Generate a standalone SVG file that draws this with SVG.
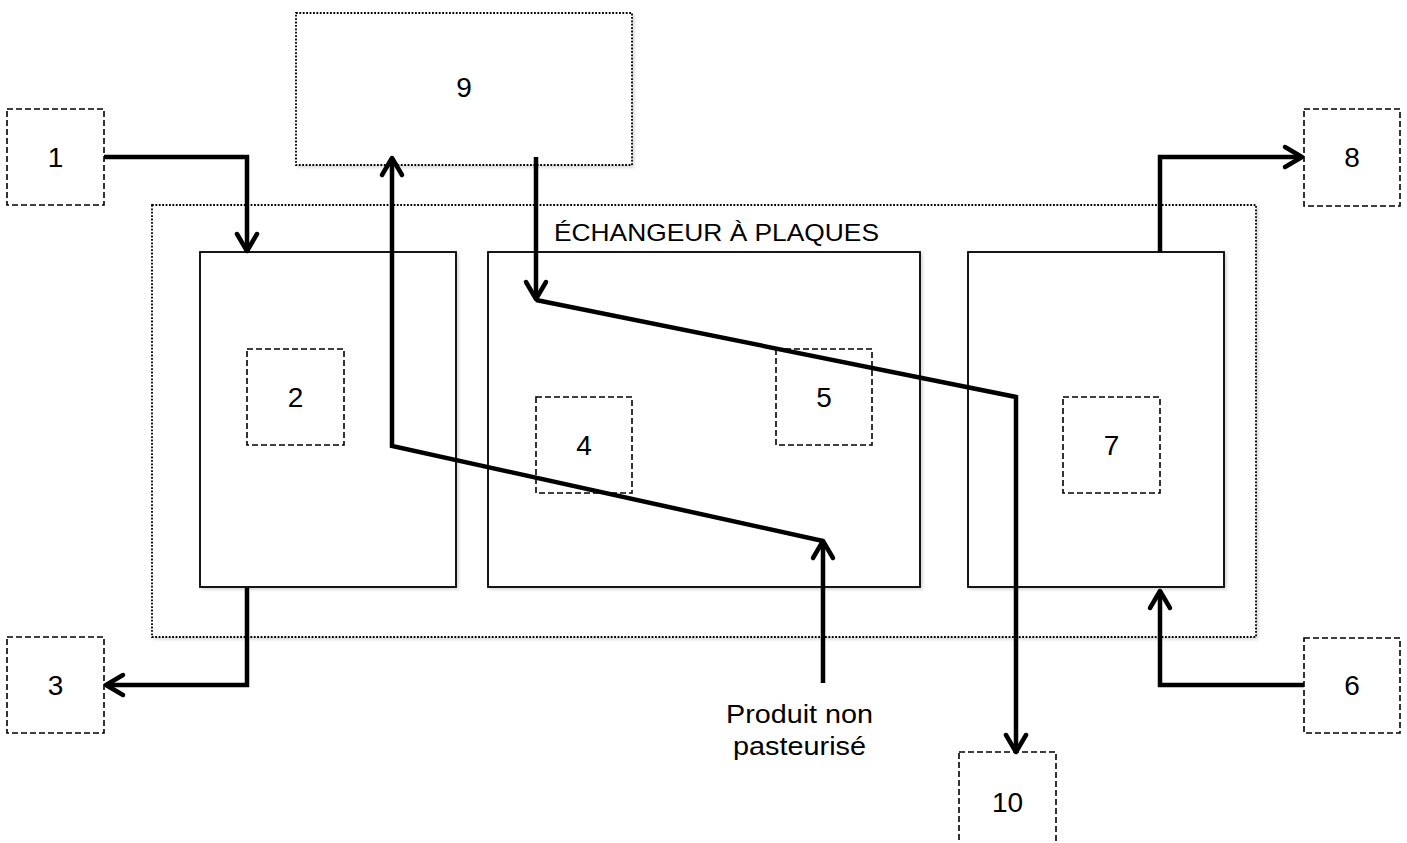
<svg xmlns="http://www.w3.org/2000/svg" width="1407" height="843" viewBox="0 0 1407 843">
<style>
  .lbl { font-family: "Liberation Sans", Arial, sans-serif; fill: #000; }
  .num { font-size: 28px; text-anchor: middle; }
  .dash { fill: #fff; stroke: #000; stroke-width: 1.6; stroke-dasharray: 6 3; }
  .dot { fill: #fff; stroke: #000; stroke-width: 1.8; stroke-dasharray: 1.8 1.6; }
  .solid { fill: #fff; stroke: #000; stroke-width: 1.8; }
  .conn { fill: none; stroke: #000; stroke-width: 4.5; stroke-linejoin: miter; }
</style>
<defs>
  <filter id="sh" x="-5%" y="-5%" width="110%" height="110%">
    <feDropShadow dx="2" dy="2" stdDeviation="1.5" flood-color="#000" flood-opacity="0.15"/>
  </filter>
  <marker id="arr" markerUnits="userSpaceOnUse" markerWidth="40" markerHeight="40" refX="0" refY="0" orient="auto" overflow="visible">
    <path d="M-17,-10 L0,0 L-17,10" fill="none" stroke="#000" stroke-width="4.5" stroke-linecap="round" stroke-linejoin="round"/>
  </marker>
</defs>
<rect width="1407" height="843" fill="#fff"/>

<g id="echangeur">
  <rect class="dot" x="152" y="205" width="1104" height="432" filter="url(#sh)"/>
  <text class="lbl" x="554" y="241" font-size="24" textLength="325" lengthAdjust="spacingAndGlyphs">ÉCHANGEUR À PLAQUES</text>
</g>
<g id="section-left"><rect class="solid" x="200" y="252" width="256" height="335" filter="url(#sh)"/></g>
<g id="section-middle"><rect class="solid" x="488" y="252" width="432" height="335" filter="url(#sh)"/></g>
<g id="section-right"><rect class="solid" x="968" y="252" width="256" height="335" filter="url(#sh)"/></g>

<g id="n9"><rect class="dot" x="296" y="13" width="336" height="152" filter="url(#sh)"/><text class="lbl num" x="464" y="97">9</text></g>
<g id="n1"><rect class="dash" x="7" y="109" width="97" height="96"/><text class="lbl num" x="55.5" y="167">1</text></g>
<g id="n8"><rect class="dash" x="1304" y="109" width="96" height="97"/><text class="lbl num" x="1352" y="167">8</text></g>
<g id="n3"><rect class="dash" x="7" y="637" width="97" height="96"/><text class="lbl num" x="55.5" y="695">3</text></g>
<g id="n6"><rect class="dash" x="1304" y="638" width="96" height="95"/><text class="lbl num" x="1352" y="695">6</text></g>
<g id="n2"><rect class="dash" x="247" y="349" width="97" height="96"/><text class="lbl num" x="295.5" y="407">2</text></g>
<g id="n4"><rect class="dash" x="536" y="397" width="96" height="96"/><text class="lbl num" x="584" y="455">4</text></g>
<g id="n5"><rect class="dash" x="776" y="349" width="96" height="96"/><text class="lbl num" x="824" y="407">5</text></g>
<g id="n7"><rect class="dash" x="1063" y="397" width="97" height="96"/><text class="lbl num" x="1111.5" y="455">7</text></g>
<g id="n10"><rect class="dash" x="959" y="752" width="97" height="100"/><text class="lbl num" x="1007.5" y="812">10</text></g>
<g id="produit">
  <text class="lbl" x="726" y="723" font-size="25" textLength="147" lengthAdjust="spacingAndGlyphs">Produit non</text>
  <text class="lbl" x="733" y="755" font-size="25" textLength="133" lengthAdjust="spacingAndGlyphs">pasteurisé</text>
</g>

<g id="connectors">
  <path class="conn" d="M104,157 H247 V251" marker-end="url(#arr)"/>
  <path class="conn" d="M247,588 V685 H106" marker-end="url(#arr)"/>
  <path class="conn" d="M1160,252 V157 H1302" marker-end="url(#arr)"/>
  <path class="conn" d="M1304,685 H1160 V591" marker-end="url(#arr)"/>
  <path class="conn" d="M823,683 V541" marker-end="url(#arr)"/>
  <path class="conn" d="M823,541 L392,446 V158" marker-end="url(#arr)"/>
  <path class="conn" d="M536,157 V299" marker-end="url(#arr)"/>
  <path class="conn" d="M536,300 L1016,397 V752" marker-end="url(#arr)"/>
</g>
</svg>
